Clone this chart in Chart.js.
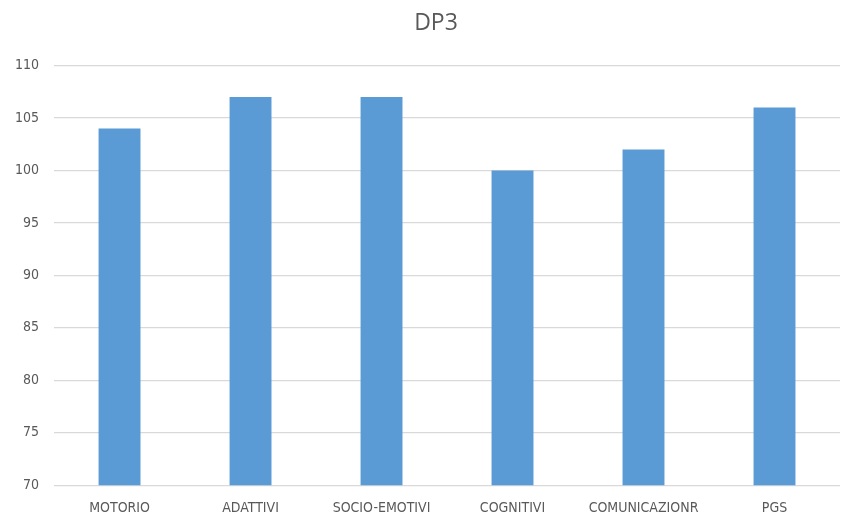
<!DOCTYPE html>
<html>
<head>
<meta charset="utf-8">
<script src="https://cdn.jsdelivr.net/npm/chart.js@4"></script>
<style>
  html, body { margin: 0; padding: 0; background: #fff; }
  #wrap { width: 845px; height: 517px; }
</style>
</head>
<body>
<div id="wrap"><canvas id="graphDP3"></canvas></div>
<script>
// ========== DONNÉES ==========
const categories = ["MOTORIO", "ADATTIVI", "SOCIO-EMOTIVI", "COGNITIVI", "COMUNICAZIONR", "PGS"];
const punteggi = [104, 107, 107, 100, 102, 106];
const yMin = 70;
const yMax = 110;
const yStep = 5;

const FONT = "'Liberation Sans Narrow', 'DejaVu Sans Condensed', sans-serif";
const GRIS = "#595959";

// décale le titre un peu vers la droite (centré sur la zone utile, pas sur tout le canvas)
const titleShift = {
  id: "titleShift",
  afterLayout(chart) {
    if (chart.titleBlock) chart.titleBlock.left += 32;
  },
};

// ========== GRAPHIQUE ==========
new Chart(document.getElementById("graphDP3"), {
  type: "bar",
  data: {
    labels: categories,
    datasets: [
      {
        label: "DP3",
        data: punteggi,
        backgroundColor: "#5b9bd5",
        borderWidth: 0,
        barPercentage: 0.64,
        categoryPercentage: 0.5,
      },
    ],
  },
  options: {
    responsive: true,
    maintainAspectRatio: false,
    animation: false,
    layout: { padding: { top: 4, right: 5, bottom: -7, left: 0 } },
    plugins: {
      legend: { display: false },
      tooltip: { enabled: false },
      title: {
        display: true,
        text: "DP3",
        color: GRIS,
        font: { family: "'Open Sans', sans-serif", size: 23, weight: "normal" },
        padding: { top: 6, bottom: 28 },
      },
    },
    scales: {
      y: {
        min: yMin,
        max: yMax,
        ticks: { stepSize: yStep, color: GRIS, font: { family: FONT, size: 14 }, padding: 15 },
        grid: { color: "#d9d9d9", lineWidth: 1.3, drawTicks: false },
        border: { display: false },
      },
      x: {
        ticks: { color: GRIS, font: { family: FONT, size: 14 }, padding: 7, maxRotation: 0 },
        grid: { display: false },
        border: { display: false },
      },
    },
  },
  plugins: [titleShift],
});
</script>
</body>
</html>
